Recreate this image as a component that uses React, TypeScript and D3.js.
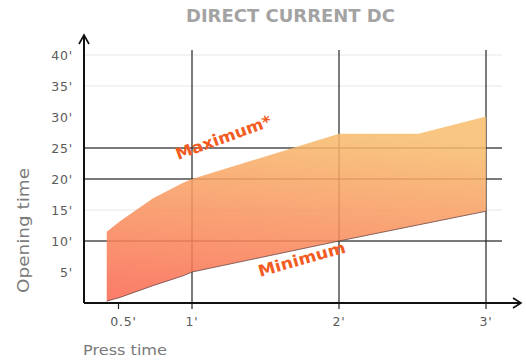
import React from "react";
import * as d3 from "d3";

const pressTime = [0.42, 0.51, 0.735, 0.94, 1, 2, 2.54, 3];
const maximum = [11.5, 13.2, 16.9, 19.4, 20, 27.3, 27.3, 30.1];
const minimum = [0.3, 0.9, 2.8, 4.4, 5, 10, 12.6, 14.8];
const yTicks = [5, 10, 15, 20, 25, 30, 35, 40];
const darkGrid = [10, 20, 25];
const lightGrid = [15, 35, 40];
const xTicks = [0.5, 1, 2, 3];
const xTickLabels = ["0.5'", "1'", "2'", "3'"];

const W = 526;
const H = 361;

export default function App() {
  const x = d3.scaleLinear().domain([0, 1]).range([45, 192]);
  const y = d3.scaleLinear().domain([0, 40]).range([303, 55]);
  const data = pressTime.map((t, i) => ({ t, hi: maximum[i], lo: minimum[i] }));
  const area = d3
    .area<{ t: number; hi: number; lo: number }>()
    .x((d) => x(d.t))
    .y0((d) => y(d.lo))
    .y1((d) => y(d.hi));
  const lowLine = d3
    .line<{ t: number; hi: number; lo: number }>()
    .x((d) => x(d.t))
    .y((d) => y(d.lo));
  const axisX = 84;
  const axisY = y(0);
  const gridRight = 502;
  const font = "'DejaVu Sans', 'Open Sans', sans-serif";
  return (
    <div style={{ position: "absolute", left: 0, top: 0 }}>
      <svg width={W} height={H} style={{ display: "block" }}>
        <defs>
          <linearGradient id="fillg" x1="0.2" y1="0" x2="0" y2="1">
            <stop offset="0" stopColor="#f7bd6c" />
            <stop offset="1" stopColor="#fa6650" />
          </linearGradient>
        </defs>
        <text x={186} y={22} textLength={209} lengthAdjust="spacingAndGlyphs" fontFamily={font} fontWeight={700} fontSize={17} fill="#a3a3a3">
          DIRECT CURRENT DC
        </text>
        {lightGrid.map((v) => (
          <line key={"l" + v} x1={axisX} x2={gridRight} y1={y(v)} y2={y(v)} stroke="#e8e8e8" strokeWidth={1.2} />
        ))}
        {darkGrid.map((v) => (
          <line key={"d" + v} x1={axisX} x2={gridRight} y1={y(v)} y2={y(v)} stroke="#222" strokeOpacity={0.8} strokeWidth={1.6} />
        ))}
        {xTicks.filter((t) => t >= 1).map((t) => (
          <line key={"v" + t} x1={x(t)} x2={x(t)} y1={50} y2={axisY + 6} stroke="#222" strokeOpacity={0.85} strokeWidth={1.4} />
        ))}
        <line x1={x(0.5)} x2={x(0.5)} y1={axisY} y2={axisY + 6} stroke="#222" strokeWidth={1.2} />
        <path d={area(data) || ""} fill="url(#fillg)" opacity={0.86} />
        <path d={lowLine(data) || ""} fill="none" stroke="#6a4a48" strokeWidth={1} opacity={0.8} />
        {/* axes */}
        <line x1={axisX} x2={axisX} y1={axisY} y2={36} stroke="#111" strokeWidth={2} />
        <path d={`M${axisX - 5},${44} L${axisX},${35} L${axisX + 5},${44}`} fill="none" stroke="#111" strokeWidth={1.6} />
        <line x1={axisX} x2={520} y1={axisY} y2={axisY} stroke="#111" strokeWidth={2} />
        <path d={`M${513},${axisY - 5} L${521},${axisY} L${513},${axisY + 5}`} fill="none" stroke="#111" strokeWidth={1.6} />
        {yTicks.map((v) => (
          <text key={"yt" + v} x={73} y={y(v) + 5} textAnchor="end" fontFamily={font} fontSize={12.5} letterSpacing={0.8} fill="#5a5a5a">
            {v + "'"}
          </text>
        ))}
        {xTicks.map((t, i) => (
          <text key={"xt" + t} x={x(t) + (t === 0.5 ? 5 : 0)} y={326} textAnchor="middle" fontFamily={font} fontSize={12.5} letterSpacing={0.8} fill="#5a5a5a">
            {xTickLabels[i]}
          </text>
        ))}
        <text transform="translate(29,293) rotate(-90)" textLength={125} lengthAdjust="spacingAndGlyphs" fontFamily={font} fontSize={15.5} fill="#7a7a7a">
          Opening time
        </text>
        <text x={83} y={355} textLength={84} lengthAdjust="spacingAndGlyphs" fontFamily={font} fontSize={14.5} fill="#7a7a7a">
          Press time
        </text>
        <text transform="translate(178,160) rotate(-20)" textLength={101} lengthAdjust="spacingAndGlyphs" fontFamily={font} fontWeight={700} fontSize={16} fill="#f25c22">
          Maximum*
        </text>
        <text transform="translate(260,277) rotate(-16)" textLength={90} lengthAdjust="spacingAndGlyphs" fontFamily={font} fontWeight={700} fontSize={16} fill="#f25c22">
          Minimum
        </text>
      </svg>
    </div>
  );
}
